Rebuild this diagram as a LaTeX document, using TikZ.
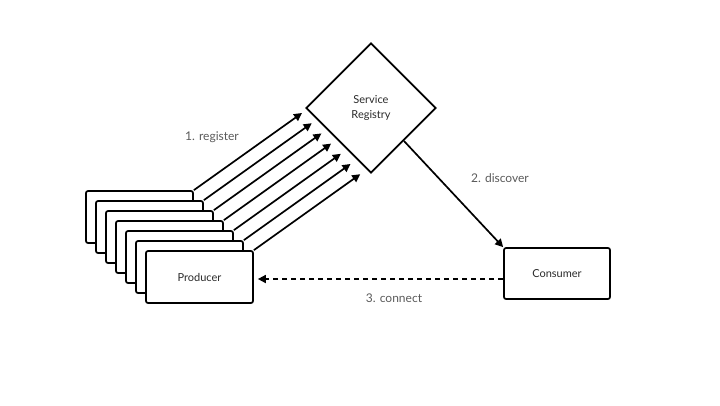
\documentclass[tikz,border=0pt]{standalone}
\usepackage{fontspec}
\setmainfont{Lato}
\usetikzlibrary{shapes.geometric,arrows.meta}
\definecolor{txt}{HTML}{2A2A2A}
\definecolor{lbl}{HTML}{5A5A5A}
\tikzset{
  box/.style={draw=black,line width=1.7pt,fill=white,rounded corners=2pt,minimum width=107pt,minimum height=52pt,inner sep=0pt,text=txt,font=\fontsize{11}{13}\selectfont},
  reg/.style={draw=black,line width=1.7pt,fill=white,diamond,aspect=1,minimum size=130pt,inner sep=0pt,text=txt,align=center,font=\fontsize{11}{15}\selectfont},
  arr/.style={line width=1.7pt,-{Triangle[length=8pt,width=8pt]}},
  lab/.style={text=lbl,font=\fontsize{12}{14}\selectfont},
}
\begin{document}
\begin{tikzpicture}[x=1pt,y=-1pt]
\useasboundingbox (0,0) rectangle (720,405);
\node[reg] (reg) at (371,108) {Service\\Registry};
\foreach \i in {1,...,7}{
  \node[box] (p\i) at ({139.5+10*(\i-1)},{217+10*(\i-1)}) {\ifnum\i=7 Producer\fi};
  \coordinate (t\i) at ({302+9.7*(\i-1)},{113+10.2*(\i-1)});
}
\foreach \i in {1,...,7}{
  \draw[arr] (p\i.north east) -- (t\i);
}
\node[box,minimum width=106pt,minimum height=51pt] (con) at (557,273.5) {Consumer};
\draw[arr] (reg.south east) -- (con.north west);
\draw[arr,dash pattern=on 5pt off 4pt] ([yshift=-5.5pt]con.west) -- ([yshift=-2pt,xshift=4pt]p7.east);
\node[lab] (l1) at (212,137) {1. register};
\node[lab] (l2) at (500,178) {2. discover};
\node[lab] (l3) at (394,298) {3. connect};
\end{tikzpicture}
\end{document}
